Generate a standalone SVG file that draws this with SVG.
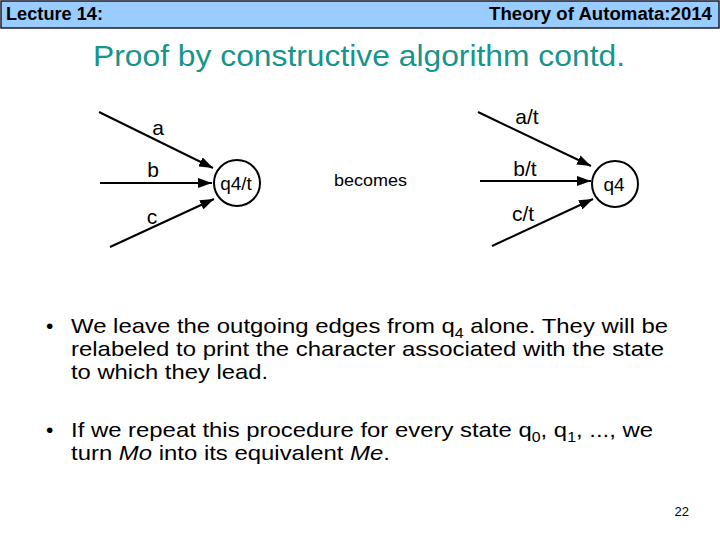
<svg xmlns="http://www.w3.org/2000/svg" width="720" height="540" viewBox="0 0 720 540">
<style>
.hdr{font-family:"Liberation Sans",Arial,sans-serif;font-weight:bold;font-size:18px;fill:#000}
.title{font-family:"Liberation Sans",Arial,sans-serif;font-size:30px;fill:#17948c}
.lbl{font-family:"Liberation Sans",Arial,sans-serif;font-size:21px;fill:#000}
.st{font-family:"Liberation Sans",Arial,sans-serif;font-size:19px;fill:#000}
.body{font-family:"Liberation Sans",Arial,sans-serif;font-size:21px;fill:#000}
.edge{stroke:#000;stroke-width:2;fill:none;marker-end:url(#ah)}
.node{fill:#fff;stroke:#000;stroke-width:2}
</style>
<defs>
<marker id="ah" viewBox="0 0 14 10" refX="14" refY="5" markerWidth="14" markerHeight="10" markerUnits="userSpaceOnUse" orient="auto">
<path d="M0,0 L14,5 L0,10 z" fill="#000"/>
</marker>
</defs>
<rect width="720" height="540" fill="#fff"/>
<g id="header">
<rect x="1" y="1" width="718" height="27" fill="#99ccff" stroke="#1a1a2e" stroke-width="1.5"/>
<text class="hdr" x="6" y="20" textLength="97" lengthAdjust="spacingAndGlyphs">Lecture 14:</text>
<text class="hdr" x="489" y="20" textLength="223" lengthAdjust="spacingAndGlyphs">Theory of Automata:2014</text>
</g>
<text class="title" x="93" y="66" textLength="532" lengthAdjust="spacingAndGlyphs">Proof by constructive algorithm contd.</text>
<g id="connectors">
<line class="edge" x1="99" y1="112" x2="213" y2="168"/>
<line class="edge" x1="100" y1="183" x2="212" y2="183"/>
<line class="edge" x1="110" y1="247" x2="214" y2="199"/>
<line class="edge" x1="478" y1="112" x2="591" y2="166"/>
<line class="edge" x1="480" y1="181" x2="591" y2="181"/>
<line class="edge" x1="492" y1="246" x2="593" y2="199"/>
</g>
<g id="edge-labels">
<text class="lbl" x="158" y="135" text-anchor="middle">a</text>
<text class="lbl" x="153" y="177" text-anchor="middle">b</text>
<text class="lbl" x="152" y="224" text-anchor="middle">c</text>
<text class="lbl" x="527" y="124" text-anchor="middle">a/t</text>
<text class="lbl" x="525" y="176" text-anchor="middle">b/t</text>
<text class="lbl" x="523" y="221" text-anchor="middle">c/t</text>
</g>
<g id="node-q4t">
<circle class="node" cx="237" cy="183" r="23"/>
<text class="st" x="236" y="190" text-anchor="middle">q4/t</text>
</g>
<g id="node-q4">
<circle class="node" cx="615" cy="184" r="23"/>
<text class="st" x="614" y="191" text-anchor="middle">q4</text>
</g>
<text x="334" y="186" font-family="Liberation Sans,Arial,sans-serif" font-size="17" textLength="73" lengthAdjust="spacingAndGlyphs">becomes</text>
<g id="bullets">
<text class="body" x="46" y="333">•</text>
<text class="body" x="71" y="333" textLength="597" lengthAdjust="spacingAndGlyphs">We leave the outgoing edges from q<tspan font-size="14" baseline-shift="-5">4</tspan> alone. They will be</text>
<text class="body" x="71" y="356" textLength="593" lengthAdjust="spacingAndGlyphs">relabeled to print the character associated with the state</text>
<text class="body" x="71" y="379" textLength="197" lengthAdjust="spacingAndGlyphs">to which they lead.</text>
<text class="body" x="46" y="437">•</text>
<text class="body" x="71" y="437" textLength="582" lengthAdjust="spacingAndGlyphs">If we repeat this procedure for every state q<tspan font-size="14" baseline-shift="-5">0</tspan>, q<tspan font-size="14" baseline-shift="-5">1</tspan>, ..., we</text>
<text class="body" x="71" y="460" textLength="319" lengthAdjust="spacingAndGlyphs">turn <tspan font-style="italic">Mo</tspan> into its equivalent <tspan font-style="italic">Me</tspan>.</text>
</g>
<text x="689" y="516" text-anchor="end" font-family="Liberation Sans,Arial,sans-serif" font-size="13">22</text>
</svg>
